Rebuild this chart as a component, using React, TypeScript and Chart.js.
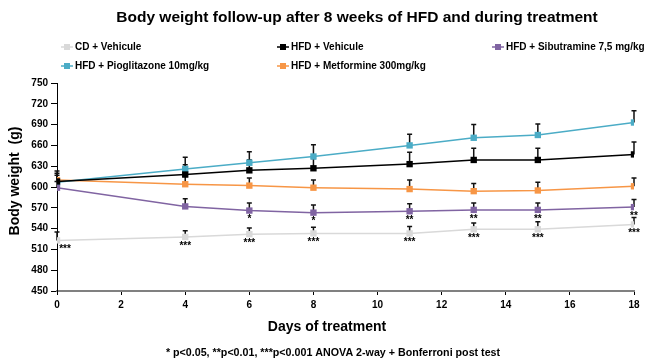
import React, { useEffect, useRef } from "react";
import { Chart, registerables } from "chart.js";

Chart.register(...registerables);

// ---- data ----
const days = [0, 4, 6, 8, 11, 13, 15, 18];

const cdVehicule = [523, 528, 532, 533, 533, 539, 539, 546];
const cdVehiculeErr = [12, 9, 9, 9, 10, 9, 11, 10];

const hfdVehicule = [608, 618, 624, 627, 633, 639, 639, 647];
const hfdVehiculeErr = [15, 14, 15, 14, 17, 17, 17, 18];

const hfdSibutramine = [599, 572, 566, 563, 565, 567, 567, 571];
const hfdSibutramineErr = [9, 11, 11, 11, 11, 10, 10, 11];

const hfdPioglitazone = [607, 626, 635, 644, 660, 671, 675, 693];
const hfdPioglitazoneErr = [10, 17, 16, 17, 16, 19, 16, 17];

const hfdMetformine = [610, 604, 602, 599, 597, 594, 595, 601];
const hfdMetformineErr = [10, 11, 11, 11, 13, 11, 12, 12];

const cdSignificance = ["***", "***", "***", "***", "***", "***", "***", "***"];
const sibSignificance = ["", "", "*", "*", "**", "**", "**", "**"];

const seriesLabels = [
  "CD + Vehicule",
  "HFD + Vehicule",
  "HFD + Sibutramine 7,5 mg/kg",
  "HFD + Pioglitazone 10mg/kg",
  "HFD + Metformine 300mg/kg",
];
const seriesColors = ["#d9d9d9", "#000000", "#8064a2", "#4bacc6", "#f79646"];

const yTicksMin = 450;
const yTicksMax = 750;
const yStep = 30;
const xMin = 0;
const xMax = 18;
const xStep = 2;

const titleText = "Body weight follow-up after 8 weeks of HFD and during treatment";
const xTitle = "Days of treatment";
const yTitle = "Body weight  (g)";
const footnote = "* p<0.05, **p<0.01, ***p<0.001 ANOVA 2-way + Bonferroni post test";

const FONT = "'Liberation Sans', Arial, Helvetica, sans-serif";

export default function App() {
  const ref = useRef<HTMLCanvasElement | null>(null);

  useEffect(() => {
    const canvas = ref.current;
    if (!canvas) return;

    const values = [cdVehicule, hfdVehicule, hfdSibutramine, hfdPioglitazone, hfdMetformine];
    const errs = [cdVehiculeErr, hfdVehiculeErr, hfdSibutramineErr, hfdPioglitazoneErr, hfdMetformineErr];

    const datasets = values.map((vals, i) => ({
      label: seriesLabels[i],
      data: days.map((d, j) => ({ x: d, y: vals[j] })),
      borderColor: seriesColors[i],
      backgroundColor: seriesColors[i],
      borderWidth: 1.5,
      pointStyle: "rect" as const,
      pointRadius: 4.5,
      pointBorderWidth: 0,
      pointHoverRadius: 4.5,
      tension: 0,
    }));

    const overlay = {
      id: "overlay",
      beforeDatasetsDraw(chart: any) {
        const ctx = chart.ctx;
        const xs = chart.scales.x;
        const ys = chart.scales.y;
        ctx.save();
        ctx.strokeStyle = "#111";
        ctx.lineWidth = 1.5;
        for (let i = 0; i < values.length; i++) {
          for (let j = 0; j < days.length; j++) {
            const x = xs.getPixelForValue(days[j]);
            const y0 = ys.getPixelForValue(values[i][j]);
            const y1 = ys.getPixelForValue(values[i][j] + errs[i][j]);
            ctx.beginPath();
            ctx.moveTo(x, y0);
            ctx.lineTo(x, y1);
            ctx.moveTo(x - 2.5, y1);
            ctx.lineTo(x + 2.5, y1);
            ctx.stroke();
          }
        }
        ctx.restore();
      },
      afterDatasetsDraw(chart: any) {
        const ctx = chart.ctx;
        const xs = chart.scales.x;
        const ys = chart.scales.y;
        ctx.save();
        ctx.fillStyle = "#000";
        ctx.font = `bold 10px ${FONT}`;
        ctx.textAlign = "center";
        ctx.textBaseline = "middle";
        const sig = [
          { vals: cdVehicule, marks: cdSignificance },
          { vals: hfdSibutramine, marks: sibSignificance },
        ];
        sig.forEach((s) => {
          s.marks.forEach((m, j) => {
            if (!m) return;
            let x = xs.getPixelForValue(days[j]);
            const y = ys.getPixelForValue(s.vals[j]) + 9;
            if (days[j] === 0) x += 8;
            ctx.fillText(m, x, y);
          });
        });
        ctx.restore();
      },
      afterDraw(chart: any) {
        const ctx = chart.ctx;
        ctx.save();
        ctx.fillStyle = "#000";
        ctx.textBaseline = "middle";
        // title
        ctx.textAlign = "center";
        ctx.font = `bold 15.5px ${FONT}`;
        ctx.fillText(titleText, 357, 18);
        // legend
        const cols = [61, 277, 492];
        const rows = [47, 66];
        ctx.font = `bold 10px ${FONT}`;
        ctx.textAlign = "left";
        seriesLabels.forEach((lab, i) => {
          const cx = cols[i % 3];
          const cy = rows[Math.floor(i / 3)];
          ctx.strokeStyle = seriesColors[i];
          ctx.lineWidth = 1.5;
          ctx.beginPath();
          ctx.moveTo(cx, cy);
          ctx.lineTo(cx + 12, cy);
          ctx.stroke();
          ctx.fillStyle = seriesColors[i];
          ctx.fillRect(cx + 3, cy - 3, 6, 6);
          ctx.fillStyle = "#000";
          ctx.fillText(lab, cx + 14, cy);
        });
        // x title
        ctx.textAlign = "center";
        ctx.font = `bold 14px ${FONT}`;
        ctx.fillText(xTitle, 327, 327);
        // footnote
        ctx.font = `bold 10.7px ${FONT}`;
        ctx.fillText(footnote, 333, 353);
        // y title
        ctx.translate(15, 181);
        ctx.rotate(-Math.PI / 2);
        ctx.font = `bold 14px ${FONT}`;
        ctx.fillText(yTitle, 0, 0);
        ctx.restore();
      },
    };

    const chart = new Chart(canvas, {
      type: "line",
      data: { datasets },
      options: {
        animation: false,
        responsive: false,
        devicePixelRatio: 1,
        layout: { padding: { top: 83, right: 18, left: 0, bottom: 0 } },
        plugins: {
          legend: { display: false },
          title: { display: false },
          tooltip: { enabled: false },
        },
        scales: {
          x: {
            type: "linear",
            min: xMin,
            max: xMax,
            ticks: {
              stepSize: xStep,
              color: "#000",
              font: { family: FONT, weight: "bold", size: 10 },
              padding: 4,
              maxRotation: 0,
            },
            grid: {
              drawOnChartArea: false,
              drawTicks: true,
              tickLength: 4,
              color: "#000",
            },
            border: { color: "#808080", width: 2 },
            afterFit(scale: any) {
              scale.height = 72;
            },
          },
          y: {
            type: "linear",
            min: yTicksMin,
            max: yTicksMax,
            ticks: {
              stepSize: yStep,
              color: "#000",
              font: { family: FONT, weight: "bold", size: 10 },
              padding: 3,
            },
            grid: {
              drawOnChartArea: false,
              drawTicks: true,
              tickLength: 6,
              color: "#000",
            },
            border: { color: "#000", width: 1 },
            afterFit(scale: any) {
              scale.width = 57;
            },
          },
        },
      },
      plugins: [overlay],
    });

    return () => chart.destroy();
  }, []);

  return (
    <div style={{ position: "fixed", left: 0, top: 0, width: 652, height: 363, background: "#fff" }}>
      <canvas ref={ref} width={652} height={363} style={{ width: 652, height: 363, display: "block" }} />
    </div>
  );
}
